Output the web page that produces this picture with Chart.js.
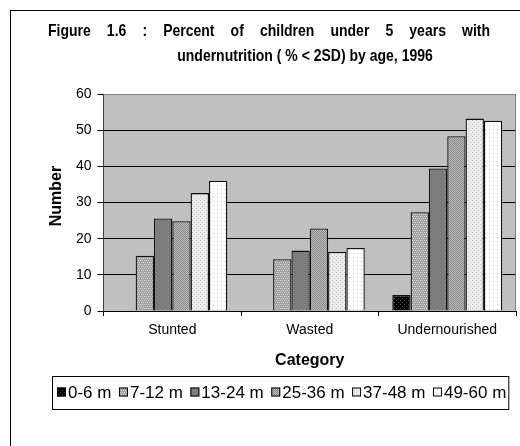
<!DOCTYPE html>
<html>
<head>
<meta charset="utf-8">
<script src="https://cdn.jsdelivr.net/npm/chart.js@4.4.0/dist/chart.umd.min.js"></script>
<style>
  html, body { margin: 0; padding: 0; background: #fff; }
  #wrap { width: 520px; height: 446px; }
</style>
</head>
<body>
<div id="wrap"><canvas id="chart" width="520" height="446"></canvas></div>
<script>
// data
const categories = ['Stunted', 'Wasted', 'Undernourished'];
const ageGroups = ['0-6 m', '7-12 m', '13-24 m', '25-36 m', '37-48 m', '49-60 m'];
const age0to6 = [null, null, 4.4];
const age7to12 = [15.3, 14.3, 27.3];
const age13to24 = [25.6, 16.7, 39.4];
const age25to36 = [24.8, 22.8, 48.3];
const age37to48 = [32.6, 16.3, 53.2];
const age49to60 = [36.0, 17.4, 52.6];
const yTicks = [0, 10, 20, 30, 40, 50, 60];

const FONT = '"Liberation Sans", Arial, sans-serif';
const canvas = document.getElementById('chart');
const ctx = canvas.getContext('2d');

// small dotted fills like the old excel patterns
function pattern(bg, fg, dots) {
  const tile = document.createElement('canvas');
  tile.width = 4;
  tile.height = 4;
  const g = tile.getContext('2d');
  g.fillStyle = bg;
  g.fillRect(0, 0, 4, 4);
  g.fillStyle = fg;
  dots.forEach(([x, y]) => g.fillRect(x, y, 1, 1));
  return ctx.createPattern(tile, 'repeat');
}

const fills = [
  pattern('#000000', '#4a4a4a', [[0, 0], [2, 2]]),
  pattern('#a0a0a0', '#dadada', [[0, 0], [2, 0], [1, 2], [3, 2]]),
  pattern('#7a7a7a', '#8c8c8c', [[0, 0], [2, 2]]),
  pattern('#bcbcbc', '#888888', [[0, 0], [2, 0], [1, 1], [3, 1], [0, 2], [2, 2], [1, 3], [3, 3]]),
  pattern('#ececec', '#c4c4c4', [[0, 0], [2, 2]]),
  pattern('#ffffff', '#c8c8c8', [[1, 1]])
];

const seriesValues = [age0to6, age7to12, age13to24, age25to36, age37to48, age49to60];

const data = {
  labels: categories,
  datasets: seriesValues.map((vals, i) => ({
    label: ageGroups[i],
    data: vals,
    backgroundColor: fills[i],
    borderColor: '#111',
    borderWidth: 1.3,
    borderSkipped: 'bottom',
    categoryPercentage: 0.8,
    barPercentage: 1.0
  }))
};

// text drawn a bit taller than wide, like the scanned figure
function tallText(c, text, x, y, sy) {
  c.save();
  c.translate(x, y);
  c.scale(1, sy);
  c.fillText(text, 0, 0);
  c.restore();
}

// frame, plot background, titles and the boxed legend
const decorations = {
  id: 'decorations',
  beforeDraw(chart) {
    const c = chart.ctx;
    const a = chart.chartArea;
    c.save();
    c.fillStyle = '#fff';
    c.fillRect(0, 0, chart.width, chart.height);
    c.strokeStyle = '#000';
    c.lineWidth = 1;
    c.strokeRect(10.5, 10.5, chart.width + 20, chart.height + 20);
    c.fillStyle = '#c0c0c0';
    c.fillRect(a.left, a.top, a.right - a.left, a.bottom - a.top);
    c.restore();
  },
  afterDraw(chart) {
    const c = chart.ctx;
    const a = chart.chartArea;
    c.save();
    // plot right border
    c.strokeStyle = '#808080';
    c.beginPath();
    c.moveTo(a.right - 0.5, a.top);
    c.lineTo(a.right - 0.5, a.bottom);
    c.stroke();

    // title, first line justified
    c.fillStyle = '#000';
    c.font = 'bold 14px ' + FONT;
    c.textBaseline = 'alphabetic';
    const words = ['Figure', '1.6', ':', 'Percent', 'of', 'children', 'under', '5', 'years', 'with'];
    const x0 = 48, x1 = 490;
    const total = words.reduce((s, w) => s + c.measureText(w).width, 0);
    const gap = (x1 - x0 - total) / (words.length - 1);
    let x = x0;
    c.textAlign = 'left';
    words.forEach(w => {
      tallText(c, w, x, 36, 1.2);
      x += c.measureText(w).width + gap;
    });
    c.textAlign = 'center';
    tallText(c, 'undernutrition ( % < 2SD) by age, 1996', 305, 61, 1.2);

    // y axis title
    c.font = 'bold 16px ' + FONT;
    c.translate(57, 196);
    c.rotate(-Math.PI / 2);
    c.textBaseline = 'middle';
    c.fillText('Number', 0, 0);
    c.setTransform(1, 0, 0, 1, 0, 0);

    // legend
    c.font = '17px ' + FONT;
    c.textAlign = 'left';
    c.textBaseline = 'middle';
    const ly = 392;
    let lx = 57;
    chart.data.datasets.forEach(ds => {
      c.fillStyle = ds.backgroundColor;
      c.fillRect(lx, ly - 4.5, 9, 9);
      c.strokeStyle = '#000';
      c.lineWidth = 1;
      c.strokeRect(lx + 0.5, ly - 4, 8, 8);
      c.fillStyle = '#000';
      c.fillText(ds.label, lx + 11, ly + 1);
      lx += 11 + c.measureText(ds.label).width + 7.5;
    });
    c.strokeStyle = '#000';
    c.strokeRect(52.5, 376.5, lx - 7.5 - 52 + 2, 33);
    c.restore();
  }
};

new Chart(canvas, {
  type: 'bar',
  data: data,
  plugins: [decorations],
  options: {
    responsive: false,
    animation: false,
    layout: { padding: { top: 94, left: 70, right: 4, bottom: 76 } },
    plugins: {
      legend: { display: false },
      title: { display: false },
      tooltip: { enabled: false }
    },
    scales: {
      x: {
        grid: {
          offset: true,
          drawOnChartArea: false,
          drawTicks: true,
          tickLength: 5,
          color: '#000'
        },
        border: { color: '#000', width: 1 },
        ticks: { color: '#000', font: { family: FONT, size: 14 }, padding: 6 },
        title: {
          display: true,
          text: 'Category',
          color: '#000',
          font: { family: FONT, size: 16, weight: 'bold' },
          padding: { top: 6, bottom: 0 }
        }
      },
      y: {
        min: 0,
        max: 60,
        afterBuildTicks(scale) {
          scale.ticks = yTicks.map(v => ({ value: v }));
        },
        grid: {
          color: ctx => (ctx.tick && ctx.tick.value === 60 ? '#808080' : '#000'),
          tickColor: '#000',
          tickLength: 6,
          lineWidth: 1
        },
        border: { color: '#404040', width: 1 },
        ticks: { color: '#000', font: { family: FONT, size: 14 }, padding: 6 }
      }
    }
  }
});
</script>
</body>
</html>
